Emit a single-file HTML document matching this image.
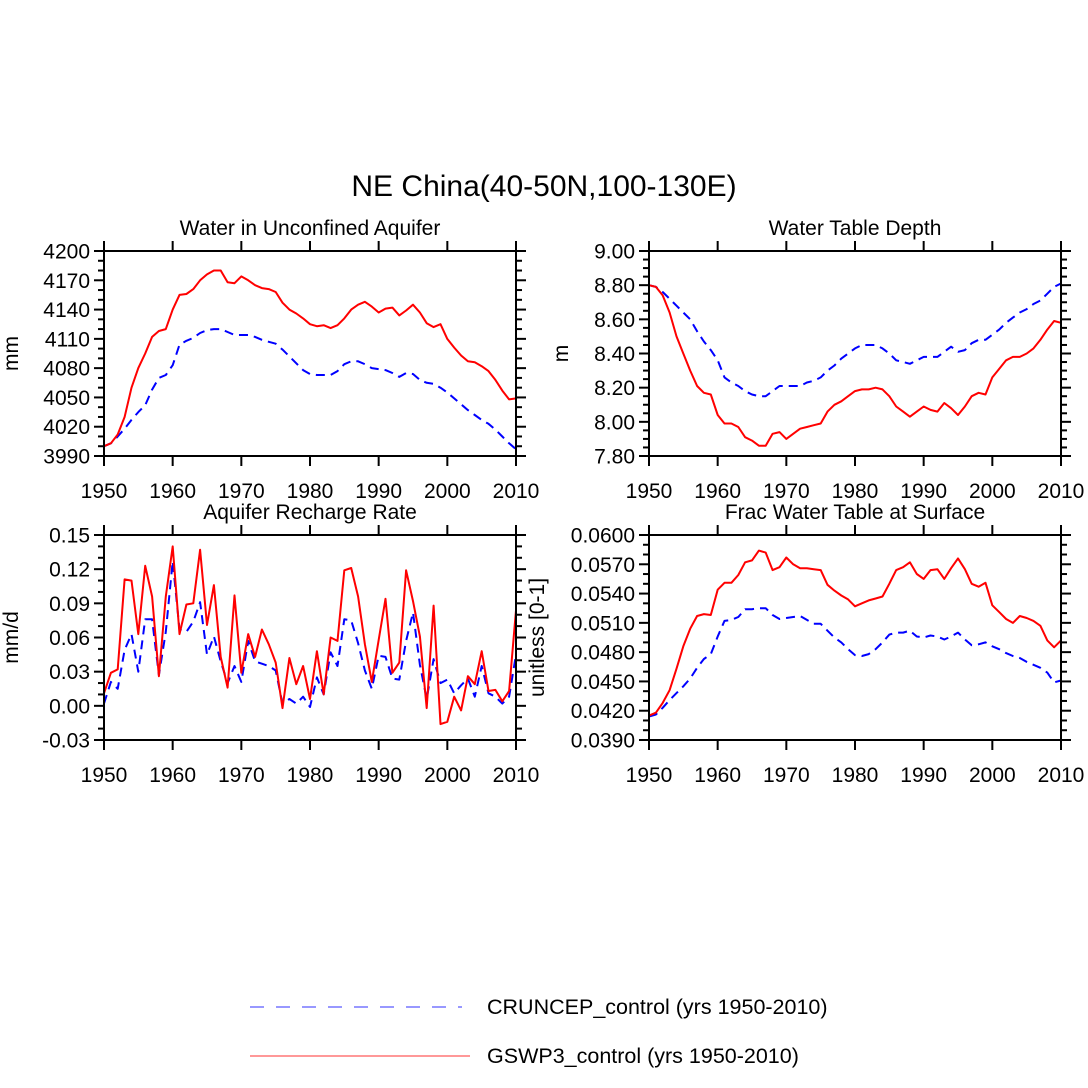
<!DOCTYPE html>
<html><head><meta charset="utf-8"><style>
html,body{margin:0;padding:0;background:#fff;}
svg{display:block;font-family:"Liberation Sans",sans-serif;}
</style></head><body>
<svg id="chart" width="1088" height="1088" viewBox="0 0 1088 1088" xmlns="http://www.w3.org/2000/svg">
<rect width="1088" height="1088" fill="#fff"/>
<text x="544" y="196" font-size="30" text-anchor="middle">NE China(40-50N,100-130E)</text>
<g>
<line x1="250" y1="1007" x2="462" y2="1007" stroke="#7777ff" stroke-width="1.5" stroke-dasharray="14,12"/>
<text x="487" y="1014" font-size="21.5">CRUNCEP_control (yrs 1950-2010)</text>
<line x1="250" y1="1056" x2="470" y2="1056" stroke="#ff7777" stroke-width="1.5"/>
<text x="487" y="1063" font-size="21.5">GSWP3_control (yrs 1950-2010)</text>
</g>
</svg>
<script>
const years = [];
for (let y = 1950; y <= 2010; y++) years.push(y);
const xTicks = [1950,1960,1970,1980,1990,2000,2010];

const aqRed = [4000,4003,4012,4030,4060,4080,4095,4112,4118,4120,4140,4155,4156,4161,4170,4176,4180,4180,4168,4167,4174,4170,4165,4162,4161,4158,4147,4140,4136,4131,4125,4123,4124,4121,4124,4131,4140,4145,4148,4143,4137,4141,4142,4134,4139,4145,4137,4126,4122,4125,4110,4101,4093,4087,4086,4082,4077,4068,4057,4048,4049];
const aqBlue = [4000,4003,4010,4018,4027,4035,4042,4058,4070,4073,4083,4104,4108,4111,4116,4119,4120,4120,4117,4114,4114,4114,4112,4109,4107,4105,4099,4092,4085,4078,4074,4073,4073,4073,4077,4084,4087,4087,4084,4080,4079,4078,4075,4071,4075,4074,4068,4065,4064,4060,4055,4049,4043,4037,4032,4027,4023,4017,4010,4003,3997];
const aqTicks = [3990,4020,4050,4080,4110,4140,4170,4200];

const wtRed = [8.80,8.79,8.74,8.64,8.50,8.40,8.30,8.21,8.17,8.16,8.04,7.99,7.99,7.97,7.91,7.89,7.86,7.86,7.93,7.94,7.90,7.93,7.96,7.97,7.98,7.99,8.06,8.10,8.12,8.15,8.18,8.19,8.19,8.20,8.19,8.15,8.09,8.06,8.03,8.06,8.09,8.07,8.06,8.11,8.08,8.04,8.09,8.15,8.17,8.16,8.26,8.31,8.36,8.38,8.38,8.40,8.43,8.48,8.54,8.59,8.58];
const wtBlue = [8.80,8.79,8.76,8.72,8.68,8.64,8.60,8.53,8.47,8.42,8.36,8.26,8.23,8.21,8.18,8.16,8.15,8.15,8.18,8.21,8.21,8.21,8.21,8.23,8.24,8.26,8.30,8.33,8.37,8.40,8.43,8.45,8.45,8.45,8.43,8.40,8.36,8.35,8.34,8.36,8.38,8.38,8.38,8.41,8.44,8.41,8.42,8.46,8.48,8.48,8.51,8.54,8.58,8.61,8.64,8.66,8.69,8.71,8.75,8.79,8.81];
const wtTicks = [7.8,8.0,8.2,8.4,8.6,8.8,9.0];

const rcRed = [0.011,0.029,0.032,0.111,0.110,0.063,0.123,0.096,0.026,0.096,0.140,0.063,0.089,0.090,0.137,0.071,0.106,0.043,0.016,0.097,0.029,0.063,0.043,0.067,0.054,0.038,-0.002,0.042,0.019,0.035,0.006,0.048,0.010,0.060,0.057,0.119,0.121,0.096,0.054,0.021,0.058,0.094,0.029,0.038,0.119,0.092,0.061,-0.002,0.088,-0.016,-0.014,0.008,-0.004,0.026,0.019,0.048,0.013,0.014,0.004,0.013,0.084];
const rcBlue = [0.002,0.021,0.015,0.049,0.063,0.030,0.076,0.076,0.027,0.065,0.127,0.067,0.065,0.074,0.091,0.045,0.061,0.039,0.020,0.035,0.021,0.057,0.039,0.037,0.035,0.031,0.002,0.006,0.002,0.008,-0.001,0.025,0.010,0.047,0.035,0.076,0.075,0.055,0.031,0.015,0.044,0.043,0.024,0.023,0.057,0.082,0.036,0.006,0.041,0.020,0.023,0.011,0.018,0.024,0.008,0.035,0.011,0.008,0.002,0.008,0.045];
const rcTicks = [-0.03,0.00,0.03,0.06,0.09,0.12,0.15];

const frRed = [0.0415,0.0418,0.0428,0.0441,0.0463,0.0486,0.0504,0.0517,0.0519,0.0518,0.0544,0.0551,0.0551,0.0559,0.0572,0.0574,0.0584,0.0582,0.0564,0.0567,0.0577,0.0570,0.0566,0.0566,0.0565,0.0564,0.0549,0.0543,0.0538,0.0534,0.0527,0.0530,0.0533,0.0535,0.0537,0.0550,0.0564,0.0567,0.0572,0.0560,0.0555,0.0564,0.0565,0.0555,0.0566,0.0576,0.0565,0.0550,0.0547,0.0551,0.0528,0.0521,0.0514,0.0510,0.0517,0.0515,0.0512,0.0507,0.0492,0.0485,0.0492];
const frBlue = [0.0414,0.0416,0.0423,0.0431,0.0438,0.0445,0.0453,0.0464,0.0473,0.0478,0.0496,0.0512,0.0513,0.0516,0.0524,0.0524,0.0525,0.0525,0.0518,0.0514,0.0515,0.0516,0.0517,0.0513,0.0509,0.0509,0.0502,0.0495,0.0490,0.0483,0.0477,0.0476,0.0478,0.0483,0.0490,0.0498,0.0500,0.0500,0.0502,0.0496,0.0495,0.0497,0.0496,0.0493,0.0496,0.0500,0.0493,0.0487,0.0488,0.0490,0.0486,0.0483,0.0479,0.0476,0.0474,0.0470,0.0467,0.0464,0.0459,0.0449,0.0451];
const frTicks = [0.0390,0.0420,0.0450,0.0480,0.0510,0.0540,0.0570,0.0600];

const NS = 'http://www.w3.org/2000/svg';
const svg = document.getElementById('chart');
function mk(tag, attrs, parent) {
  const e = document.createElementNS(NS, tag);
  for (const k in attrs) e.setAttribute(k, attrs[k]);
  parent.appendChild(e);
  return e;
}

function panel(cfg) {
  const g = mk('g', {}, svg);
  
  
  const L = cfg.x, T = cfg.y, W = 412, H = 205;
  const yMin = cfg.ticks[0], yMax = cfg.ticks[cfg.ticks.length - 1];
  const sx = v => L + (v - 1950) / 60 * W;
  const sy = v => T + H - (v - yMin) / (yMax - yMin) * H;
  const t = mk('text', {x: L + W / 2, y: T - 16, 'font-size': 21, 'text-anchor': 'middle'}, g);
  t.textContent = cfg.title;
  
  
  const yl = mk('text', {x: 0, y: 0, 'font-size': 21, 'text-anchor': 'middle', transform: `translate(${cfg.ylx},${T + H / 2}) rotate(-90)`}, g);
  yl.textContent = cfg.ylabel;
  
  
  const path = (arr, color, dash, nm) => {
    const d = arr.map((v, i) => (i ? 'L' : 'M') + sx(years[i]).toFixed(1) + ',' + sy(v).toFixed(1)).join('');
    const p = mk('path', {d: d, fill: 'none', stroke: color, 'stroke-width': 2, 'stroke-linejoin': 'round'}, g);
    if (dash) p.setAttribute('stroke-dasharray', dash);
    
    
  };
  path(cfg.blue, '#0000ff', '9,6', 'series-cruncep');
  path(cfg.red, '#ff0000', null, 'series-gswp3');
  const f = mk('rect', {x: L, y: T, width: W, height: H, fill: 'none', stroke: '#000', 'stroke-width': 2}, g);
  
  
  xTicks.forEach(v => {
    const X = sx(v);
    mk('line', {x1: X, y1: T + H, x2: X, y2: T + H + 10, stroke: '#000', 'stroke-width': 2}, g);
    mk('line', {x1: X, y1: T, x2: X, y2: T - 10, stroke: '#000', 'stroke-width': 2}, g);
    const lb = mk('text', {x: X, y: T + H + 42, 'font-size': 21, 'text-anchor': 'middle'}, g);
    lb.textContent = v;
    
    
  });
  const step = (yMax - yMin) / (cfg.ticks.length - 1) / cfg.minor;
  for (let i = 0; i <= (cfg.ticks.length - 1) * cfg.minor; i++) {
    const Y = sy(yMin + i * step);
    const len = (i % cfg.minor === 0) ? 10 : 6;
    mk('line', {x1: L, y1: Y, x2: L - len, y2: Y, stroke: '#000', 'stroke-width': 2}, g);
    mk('line', {x1: L + W, y1: Y, x2: L + W + len, y2: Y, stroke: '#000', 'stroke-width': 2}, g);
  }
  cfg.ticks.forEach(v => {
    const lb = mk('text', {x: L - 14, y: sy(v) + 7.5, 'font-size': 21, 'text-anchor': 'end'}, g);
    lb.textContent = v.toFixed(cfg.dec);
    
    
  });
}

panel({name: 'panel-water-in-aquifer', x: 104, y: 251, title: 'Water in Unconfined Aquifer', ylabel: 'mm', ylx: 18, red: aqRed, blue: aqBlue, ticks: aqTicks, minor: 3, dec: 0});
panel({name: 'panel-water-table-depth', x: 649, y: 251, title: 'Water Table Depth', ylabel: 'm', ylx: 568, red: wtRed, blue: wtBlue, ticks: wtTicks, minor: 4, dec: 2});
panel({name: 'panel-recharge-rate', x: 104, y: 535, title: 'Aquifer Recharge Rate', ylabel: 'mm/d', ylx: 18, red: rcRed, blue: rcBlue, ticks: rcTicks, minor: 3, dec: 2});
panel({name: 'panel-frac-water-table', x: 649, y: 535, title: 'Frac Water Table at Surface', ylabel: 'unitless [0-1]', ylx: 544, red: frRed, blue: frBlue, ticks: frTicks, minor: 3, dec: 4});
</script>
</body></html>
